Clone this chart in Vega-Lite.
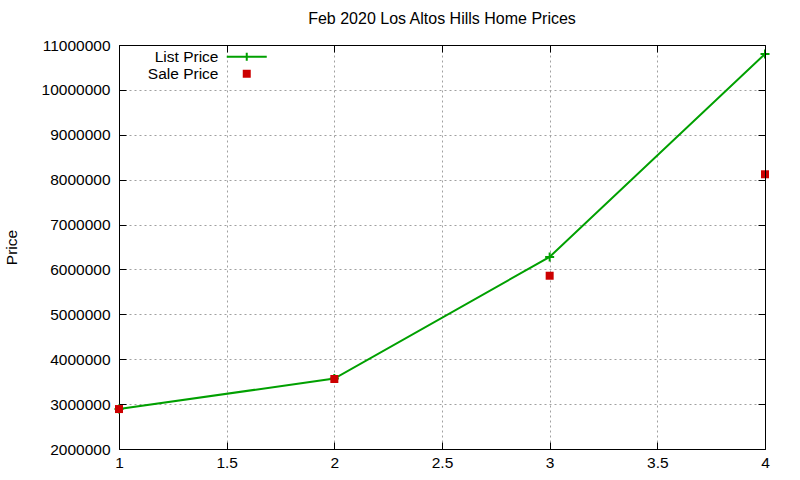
{
  "$schema": "https://vega.github.io/schema/vega-lite/v6.json",
  "width": 646,
  "height": 404,
  "autosize": "none",
  "padding": {"left": 119, "top": 45, "right": 35, "bottom": 31},
  "background": "white",
  "title": {
    "text": "Feb 2020 Los Altos Hills Home Prices",
    "font": "Liberation Sans",
    "fontSize": 16,
    "fontWeight": "normal",
    "color": "black",
    "offset": 11
  },
  "config": {
    "view": {"stroke": null},
    "axis": {
      "labelFont": "Liberation Sans",
      "labelFontSize": 15.5,
      "labelColor": "black",
      "titleFont": "Liberation Sans",
      "titleFontSize": 15.5,
      "titleFontWeight": "normal",
      "titleColor": "black",
      "domainColor": "black",
      "tickColor": "black",
      "tickSize": -7,
      "gridColor": "#a0a0a0",
      "gridDash": [2, 3],
      "gridWidth": 1
    }
  },
  "data": {
    "values": [
      {"x": 1, "series": "List Price", "price": 2890000},
      {"x": 2, "series": "List Price", "price": 3570000},
      {"x": 3, "series": "List Price", "price": 6280000},
      {"x": 4, "series": "List Price", "price": 10800000},
      {"x": 1, "series": "Sale Price", "price": 2890000},
      {"x": 2, "series": "Sale Price", "price": 3560000},
      {"x": 3, "series": "Sale Price", "price": 5860000},
      {"x": 4, "series": "Sale Price", "price": 8120000}
    ]
  },
  "encoding": {
    "x": {
      "field": "x",
      "type": "quantitative",
      "scale": {"domain": [1, 4], "nice": false},
      "axis": {"title": null, "values": [1, 1.5, 2, 2.5, 3, 3.5, 4], "format": ".2~f", "labelPadding": 13, "labelFlush": false}
    },
    "y": {
      "field": "price",
      "type": "quantitative",
      "scale": {"domain": [2000000, 11000000], "nice": false, "zero": false},
      "axis": {"title": "Price", "values": [2000000, 3000000, 4000000, 5000000, 6000000, 7000000, 8000000, 9000000, 10000000, 11000000], "format": "d", "labelPadding": 16, "titlePadding": 22}
    }
  },
  "layer": [
    {
      "encoding": {
        "color": {
          "field": "series",
          "type": "nominal",
          "scale": {"domain": ["List Price", "Sale Price"], "range": ["#00a000", "#cc0000"]},
          "legend": {
            "orient": "none",
            "legendX": 120,
            "legendY": 4,
            "title": null,
            "labelFont": "Liberation Sans",
            "labelFontSize": 15.5,
            "labelColor": "black",
            "labelAlign": "right",
            "labelOffset": -36,
            "symbolSize": 64,
            "rowPadding": -3,
            "encode": {
              "symbols": {
                "update": {
                  "shape": {"signal": "datum.value == 'List Price' ? 'M-5,0H5M0,-1V1' : 'square'"},
                  "fill": {"signal": "datum.value == 'List Price' ? 'transparent' : '#cc0000'"},
                  "stroke": {"signal": "datum.value == 'List Price' ? '#00a000' : '#cc0000'"},
                  "strokeWidth": {"signal": "datum.value == 'List Price' ? 2 : 0"},
                  "opacity": {"value": 1}
                }
              }
            }
          }
        }
      },
      "layer": [
        {
          "transform": [{"filter": "datum.series == 'List Price'"}],
          "mark": {"type": "line", "strokeWidth": 2}
        },
        {
          "transform": [{"filter": "datum.series == 'List Price'"}],
          "mark": {"type": "point", "shape": "M-1,0H1M0,-1V1", "filled": false, "size": 81, "strokeWidth": 2, "opacity": 1}
        },
        {
          "transform": [{"filter": "datum.series == 'Sale Price'"}],
          "mark": {"type": "square", "size": 64, "opacity": 1}
        }
      ]
    },
    {
      "transform": [{"filter": "datum.series == 'List Price'"}],
      "mark": {"type": "line", "opacity": 0},
      "encoding": {
        "x": {
          "field": "x",
          "type": "quantitative",
          "axis": {"orient": "top", "title": null, "labels": false, "grid": false, "values": [1, 1.5, 2, 2.5, 3, 3.5, 4], "zindex": 1}
        },
        "y": {
          "field": "price",
          "type": "quantitative",
          "axis": {"orient": "right", "title": null, "labels": false, "grid": false, "values": [2000000, 3000000, 4000000, 5000000, 6000000, 7000000, 8000000, 9000000, 10000000, 11000000], "zindex": 1}
        }
      }
    }
  ],
  "resolve": {"axis": {"x": "independent", "y": "independent"}}
}
